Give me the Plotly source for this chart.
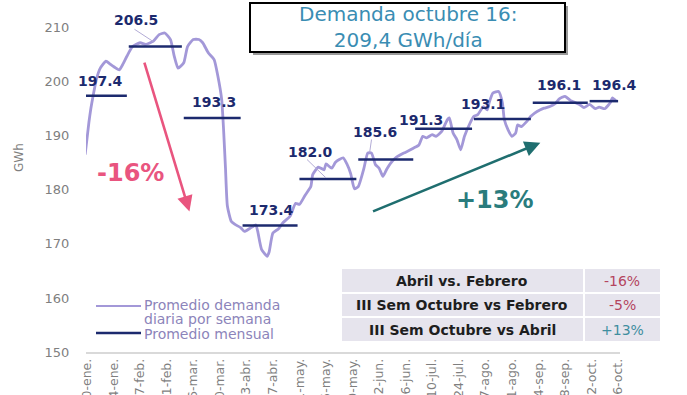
import plotly.graph_objects as go

# ---------------- data ----------------
fechas = ["2020-01-09","2020-01-11","2020-01-12","2020-01-13","2020-01-15","2020-01-17","2020-01-20","2020-01-22",
          "2020-01-24","2020-01-27","2020-01-29","2020-01-31","2020-02-03","2020-02-07","2020-02-10","2020-02-14",
          "2020-02-17","2020-02-20","2020-02-23","2020-02-25","2020-02-27","2020-03-01","2020-03-03","2020-03-06",
          "2020-03-09","2020-03-11","2020-03-14","2020-03-17","2020-03-19","2020-03-21","2020-03-22","2020-03-23",
          "2020-03-24","2020-03-26","2020-03-28","2020-03-31","2020-04-02","2020-04-05","2020-04-08","2020-04-09",
          "2020-04-11","2020-04-14","2020-04-15","2020-04-17","2020-04-20","2020-04-22","2020-04-26","2020-04-29",
          "2020-05-01","2020-05-04","2020-05-07","2020-05-08","2020-05-11","2020-05-14","2020-05-15","2020-05-18",
          "2020-05-20","2020-05-22","2020-05-24","2020-05-26","2020-05-28","2020-05-30","2020-06-01","2020-06-04",
          "2020-06-06","2020-06-08","2020-06-10","2020-06-12","2020-06-14","2020-06-16","2020-06-18","2020-06-21",
          "2020-06-25","2020-06-28","2020-06-30","2020-07-03","2020-07-05","2020-07-07","2020-07-10","2020-07-12",
          "2020-07-15","2020-07-18","2020-07-19","2020-07-21","2020-07-23","2020-07-25","2020-07-27","2020-07-30",
          "2020-08-01","2020-08-03","2020-08-06","2020-08-08","2020-08-09","2020-08-11","2020-08-14","2020-08-16",
          "2020-08-17","2020-08-19","2020-08-21","2020-08-23","2020-08-24","2020-08-26","2020-08-29","2020-08-31",
          "2020-09-02","2020-09-05","2020-09-07","2020-09-10","2020-09-13","2020-09-15","2020-09-18","2020-09-21",
          "2020-09-23","2020-09-26","2020-09-28","2020-10-01","2020-10-04","2020-10-06","2020-10-09","2020-10-12",
          "2020-10-13","2020-10-15"]
demanda = [186.5,192.5,195.0,197.0,200.5,202.5,203.8,203.3,
           202.8,202.2,203.3,204.7,206.5,207.2,206.9,207.5,
           208.7,209.0,207.8,204.7,202.5,203.5,206.5,207.8,
           207.8,207.2,205.3,204.1,201.0,196.7,191.1,184.0,
           177.0,174.2,173.6,173.0,172.3,172.9,173.5,172.3,
           169.0,167.7,168.5,172.0,172.8,173.8,175.1,177.5,
           177.3,179.0,180.6,182.8,184.2,183.7,184.8,184.0,
           185.1,185.6,185.9,184.8,183.0,180.2,180.6,184.0,
           186.8,186.8,184.7,184.0,182.5,183.8,184.9,186.0,
           186.8,187.3,187.7,188.3,189.9,189.6,190.2,189.9,
           190.8,193.0,193.3,190.5,189.3,187.4,189.9,192.4,
           193.6,193.9,195.4,194.8,196.1,197.9,198.2,196.1,
           193.0,191.1,189.9,190.5,192.0,191.7,192.7,193.6,
           194.2,194.8,195.1,195.4,196.0,196.8,197.3,196.5,
           196.2,195.7,195.2,195.8,195.0,195.3,195.0,196.2,
           197.0,196.4]

mes_inicio = ["2020-01-09","2020-02-01","2020-03-01","2020-04-01","2020-05-01",
              "2020-06-01","2020-07-01","2020-08-01","2020-09-01","2020-10-01"]
mes_fin = ["2020-01-31","2020-02-29","2020-03-31","2020-04-30","2020-05-31",
           "2020-06-30","2020-07-31","2020-08-31","2020-09-30","2020-10-16"]
promedio_mensual = [197.4, 206.5, 193.3, 173.4, 182.0, 185.6, 191.3, 193.1, 196.1, 196.4]

ticks_fechas = ["2020-01-10","2020-01-24","2020-02-07","2020-02-21","2020-03-06","2020-03-20","2020-04-03",
                "2020-04-17","2020-05-01","2020-05-15","2020-05-29","2020-06-12","2020-06-26","2020-07-10",
                "2020-07-24","2020-08-07","2020-08-21","2020-09-04","2020-09-18","2020-10-02","2020-10-16"]
ticks_texto = ["10-ene.","24-ene.","7-feb.","21-feb.","6-mar.","20-mar.","3-abr.","17-abr.","1-may.",
               "15-may.","29-may.","12-jun.","26-jun.","10-jul.","24-jul.","7-ago.","21-ago.","4-sep.",
               "18-sep.","2-oct.","16-oct."]
ticks_y = [150, 160, 170, 180, 190, 200, 210]

tabla_comparacion = ["Abril vs. Febrero", "III Sem Octubre vs Febrero", "III Sem Octubre vs Abril"]
tabla_variacion = ["-16%", "-5%", "+13%"]

titulo = "Demanda octubre 16:<br>209,4 GWh/día"

# ---------------- layout helpers ----------------
W, H = 687, 395
L, R, T, B = 86, 67, 6, 43
PW, PH = W - L - R, H - T - B
def px(x): return (x - L) / PW
def py(y): return (H - B - y) / PH

FONT = "DejaVu Sans"
PURPLE = "#A398D8"
NAVY = "#1C2A6E"

# label placement (layout, not data)
etiqueta_x = ["2020-01-17","2020-02-05","2020-03-17","2020-04-16","2020-05-07",
              "2020-06-10","2020-07-04","2020-08-06","2020-09-15","2020-10-14"]
etiqueta_dy = [2.8, 5.0, 3.0, 2.9, 5.0, 5.1, 1.7, 2.8, 3.3, 3.0]

fig = go.Figure()
fig.add_trace(go.Scatter(x=fechas, y=demanda, mode="lines",
                         line=dict(color=PURPLE, width=2.8, shape="spline", smoothing=0.5),
                         hoverinfo="skip", showlegend=False))
for a, b, v in zip(mes_inicio, mes_fin, promedio_mensual):
    fig.add_trace(go.Scatter(x=[a, b], y=[v, v], mode="lines",
                             line=dict(color=NAVY, width=2.5), hoverinfo="skip", showlegend=False))

shapes = []
annotations = []

def paper_text(x, y, text, size, color, xanchor="center", angle=0, align="center"):
    annotations.append(dict(x=px(x), y=py(y), xref="paper", yref="paper", text=text,
                            xanchor=xanchor, yanchor="middle", showarrow=False, textangle=angle,
                            align=align, font=dict(family=FONT, size=size, color=color)))

# monthly value labels
for xl, dy, v in zip(etiqueta_x, etiqueta_dy, promedio_mensual):
    annotations.append(dict(x=xl, y=v + dy, xref="x", yref="y", text=f"<b>{v:.1f}</b>",
                            xanchor="center", yanchor="middle",
                            showarrow=False, font=dict(family=FONT, size=14, color=NAVY)))

# leader lines
for x0, y0, x1, y1 in [("2020-02-04", 209.7, "2020-02-14", 207.4),
                       ("2020-05-05", 185.6, "2020-05-15", 182.2),
                       ("2020-06-08", 189.3, "2020-06-07", 186.9)]:
    shapes.append(dict(type="line", xref="x", yref="y", x0=x0, y0=y0, x1=x1, y1=y1,
                       line=dict(color="#B3ACD6", width=1)))

# arrows
annotations.append(dict(x="2020-03-04", y=176.0, ax="2020-02-09", ay=203.8, xref="x", yref="y",
                        axref="x", ayref="y", showarrow=True, arrowhead=2, arrowsize=1.2,
                        arrowwidth=2.6, arrowcolor="#E9557F", text=""))
annotations.append(dict(x="2020-09-05", y=188.7, ax="2020-06-08", ay=175.9, xref="x", yref="y",
                        axref="x", ayref="y", showarrow=True, arrowhead=2, arrowsize=1.2,
                        arrowwidth=2.6, arrowcolor="#1F6E6F", text=""))
annotations.append(dict(x="2020-02-02", y=183.1, xref="x", yref="y", text="<b>-16%</b>", showarrow=False,
                        xanchor="center", yanchor="middle",
                        font=dict(family=FONT, size=24, color="#E9557F")))
annotations.append(dict(x="2020-08-12", y=178.1, xref="x", yref="y", text="<b>+13%</b>", showarrow=False,
                        xanchor="center", yanchor="middle",
                        font=dict(family=FONT, size=24, color="#2A7C7D")))

# title box
shapes.append(dict(type="rect", xref="paper", yref="paper", x0=px(253), x1=px(568), y0=py(55), y1=py(6),
                   fillcolor="#9A9A9A", line=dict(width=0), layer="above"))
shapes.append(dict(type="rect", xref="paper", yref="paper", x0=px(250), x1=px(565), y0=py(52), y1=py(3),
                   fillcolor="white", line=dict(color="black", width=2), layer="above"))
paper_text(408, 27.5, titulo, 20, "#3A8DB3")

# y axis title
paper_text(19, 158, "GWh", 12, "#7F7F7F", angle=-90)

# legend (manual)
LEG = "#8C84BA"
shapes.append(dict(type="line", xref="paper", yref="paper", x0=px(96), x1=px(141), y0=py(306), y1=py(306),
                   line=dict(color=PURPLE, width=2)))
shapes.append(dict(type="line", xref="paper", yref="paper", x0=px(96), x1=px(141), y0=py(333), y1=py(333),
                   line=dict(color=NAVY, width=2.5)))
paper_text(142, 305, "Promedio demanda", 14, LEG, xanchor="left")
paper_text(142, 319, "diaria por semana", 14, LEG, xanchor="left")
paper_text(142, 334, "Promedio mensual", 14, LEG, xanchor="left")

# comparison table
filas = [(269, 292), (294, 316), (318, 341)]
colores_var = ["#B4455F", "#B4455F", "#3F8E9F"]
for (y0, y1), txt, var, cv in zip(filas, tabla_comparacion, tabla_variacion, colores_var):
    shapes.append(dict(type="rect", xref="paper", yref="paper", x0=px(342), x1=px(583), y0=py(y1), y1=py(y0),
                       fillcolor="#E6E4ED", line=dict(width=0)))
    shapes.append(dict(type="rect", xref="paper", yref="paper", x0=px(585), x1=px(660), y0=py(y1), y1=py(y0),
                       fillcolor="#E6E4ED", line=dict(width=0)))
    yc = (y0 + y1) / 2
    paper_text(462, yc, f"<b>{txt}</b>", 14, "#1E1E1E")
    paper_text(622, yc, var, 14, cv)

fig.update_layout(
    width=W, height=H, autosize=False,
    margin=dict(l=L, r=R, t=T, b=B),
    paper_bgcolor="white", plot_bgcolor="white",
    shapes=shapes, annotations=annotations,
    showlegend=False,
    xaxis=dict(type="date", range=["2020-01-09 11:00", "2020-10-17 00:00"],
               tickvals=ticks_fechas, ticktext=ticks_texto, tickangle=-90,
               tickfont=dict(family=FONT, size=12.5, color="#7F7F7F"),
               showgrid=False, zeroline=False, showline=True, linecolor="#D9D9D9", linewidth=1.5,
               ticks="", automargin=False, fixedrange=True),
    yaxis=dict(range=[150, 214], tickvals=ticks_y,
               tickfont=dict(family=FONT, size=13, color="#7F7F7F"),
               showgrid=False, zeroline=False, showline=False,
               ticks="outside", ticklen=13, tickcolor="rgba(0,0,0,0)",
               automargin=False, fixedrange=True),
)

fig.write_html("out.html", config={"displayModeBar": False},
               post_script="document.body.style.margin='0';document.body.style.padding='0';"
                           "document.body.style.overflow='hidden';")
